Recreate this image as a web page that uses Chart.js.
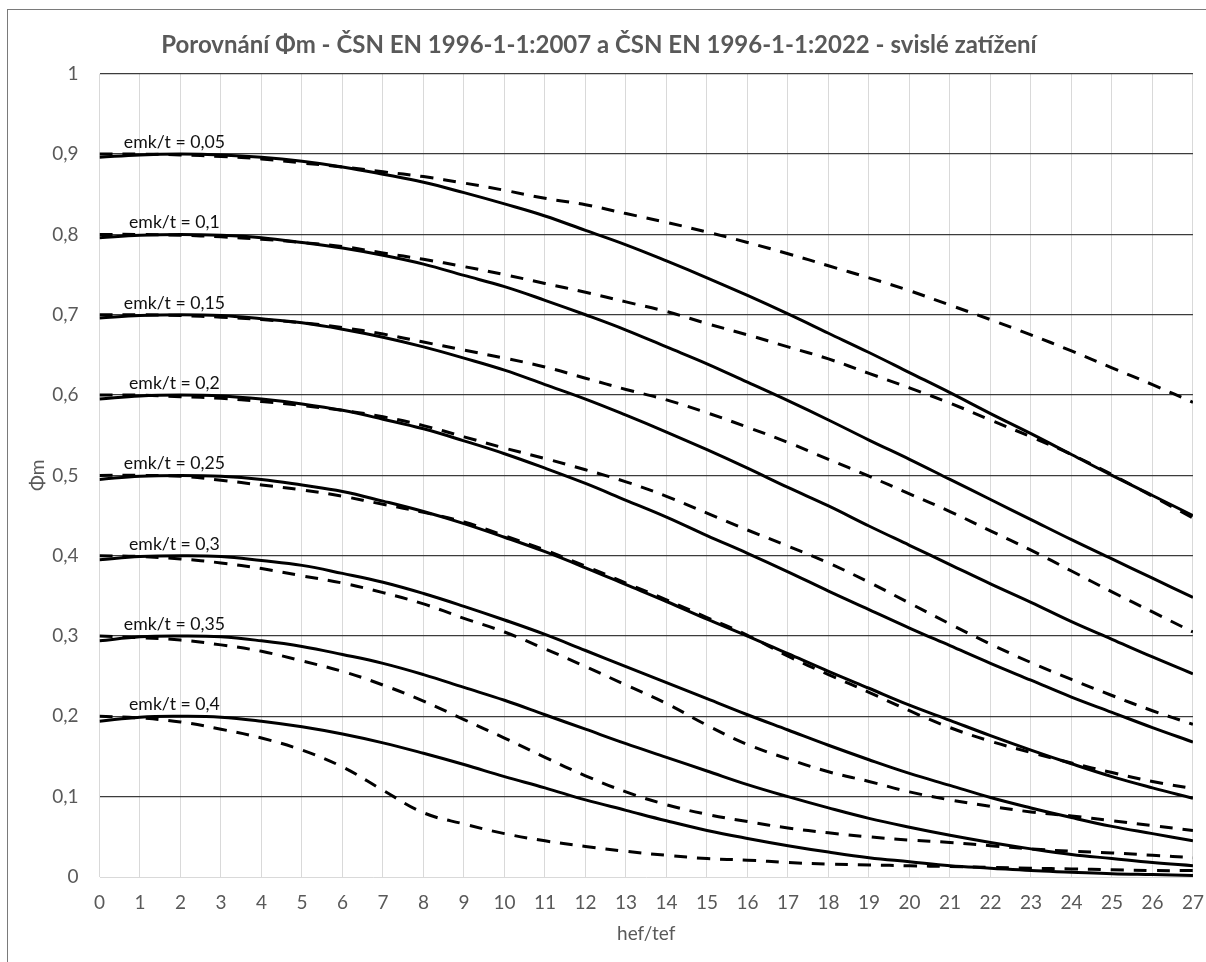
<!DOCTYPE html>
<html>
<head>
<meta charset="utf-8">
<title>Porovnání Φm</title>
<script src="https://cdn.jsdelivr.net/npm/chart.js@4.4.1/dist/chart.umd.min.js"></script>
<style>
  html, body { margin: 0; padding: 0; background: #fff; overflow: hidden; }
  canvas { display: block; }
</style>
</head>
<body>
<canvas id="phi-chart" width="1218" height="962"></canvas>
<script>
// hef/tef values on the x axis
const hefTef = [0, 1, 2, 3, 4, 5, 6, 7, 8, 9, 10, 11, 12, 13, 14, 15, 16, 17, 18, 19, 20, 21, 22, 23, 24, 25, 26, 27];
const emkLabels = ["0,05", "0,1", "0,15", "0,2", "0,25", "0,3", "0,35", "0,4"];
const yTickLabels = ["0", "0,1", "0,2", "0,3", "0,4", "0,5", "0,6", "0,7", "0,8", "0,9", "1"];

// ČSN EN 1996-1-1:2007 (solid)
const phi2007_005 = [0.896, 0.899, 0.900, 0.899, 0.896, 0.891, 0.884, 0.875, 0.865, 0.852, 0.838, 0.823, 0.805, 0.787, 0.767, 0.746, 0.724, 0.701, 0.677, 0.653, 0.628, 0.603, 0.577, 0.552, 0.526, 0.500, 0.475, 0.450];
const phi2007_010 = [0.796, 0.799, 0.800, 0.799, 0.796, 0.790, 0.783, 0.774, 0.763, 0.749, 0.735, 0.718, 0.700, 0.681, 0.660, 0.639, 0.616, 0.593, 0.569, 0.544, 0.520, 0.495, 0.470, 0.445, 0.420, 0.396, 0.372, 0.348];
const phi2007_015 = [0.696, 0.699, 0.700, 0.699, 0.695, 0.690, 0.682, 0.672, 0.660, 0.646, 0.631, 0.613, 0.595, 0.575, 0.554, 0.532, 0.509, 0.485, 0.462, 0.437, 0.413, 0.389, 0.365, 0.342, 0.318, 0.296, 0.274, 0.253];
const phi2007_020 = [0.595, 0.599, 0.600, 0.599, 0.595, 0.589, 0.581, 0.570, 0.558, 0.543, 0.527, 0.509, 0.490, 0.469, 0.448, 0.425, 0.403, 0.380, 0.356, 0.333, 0.310, 0.288, 0.266, 0.245, 0.224, 0.205, 0.186, 0.168];
const phi2007_025 = [0.495, 0.499, 0.500, 0.499, 0.495, 0.488, 0.480, 0.468, 0.455, 0.440, 0.423, 0.405, 0.385, 0.364, 0.343, 0.321, 0.300, 0.278, 0.256, 0.235, 0.214, 0.195, 0.176, 0.158, 0.141, 0.125, 0.111, 0.098];
const phi2007_030 = [0.395, 0.399, 0.400, 0.399, 0.394, 0.388, 0.378, 0.367, 0.353, 0.337, 0.320, 0.302, 0.282, 0.262, 0.242, 0.222, 0.202, 0.183, 0.164, 0.146, 0.129, 0.114, 0.099, 0.086, 0.074, 0.063, 0.054, 0.045];
const phi2007_035 = [0.294, 0.299, 0.300, 0.299, 0.294, 0.287, 0.277, 0.266, 0.252, 0.236, 0.220, 0.202, 0.184, 0.166, 0.149, 0.132, 0.115, 0.100, 0.086, 0.073, 0.062, 0.052, 0.043, 0.035, 0.028, 0.023, 0.018, 0.014];
const phi2007_040 = [0.194, 0.199, 0.200, 0.199, 0.194, 0.187, 0.178, 0.167, 0.154, 0.140, 0.125, 0.111, 0.096, 0.083, 0.070, 0.058, 0.048, 0.039, 0.031, 0.024, 0.019, 0.014, 0.011, 0.008, 0.006, 0.004, 0.003, 0.002];

// ČSN EN 1996-1-1:2022 (dashed)
const phi2022_005 = [0.900, 0.900, 0.899, 0.897, 0.894, 0.889, 0.884, 0.878, 0.872, 0.864, 0.855, 0.845, 0.837, 0.826, 0.815, 0.803, 0.790, 0.776, 0.761, 0.746, 0.730, 0.712, 0.694, 0.675, 0.655, 0.634, 0.613, 0.591];
const phi2022_010 = [0.800, 0.800, 0.799, 0.797, 0.794, 0.790, 0.785, 0.777, 0.769, 0.760, 0.750, 0.739, 0.728, 0.716, 0.704, 0.689, 0.675, 0.660, 0.645, 0.627, 0.609, 0.590, 0.569, 0.548, 0.526, 0.501, 0.474, 0.447];
const phi2022_015 = [0.700, 0.700, 0.699, 0.697, 0.694, 0.690, 0.684, 0.676, 0.666, 0.656, 0.646, 0.635, 0.621, 0.607, 0.594, 0.578, 0.560, 0.541, 0.520, 0.499, 0.477, 0.455, 0.431, 0.407, 0.381, 0.355, 0.330, 0.305];
const phi2022_020 = [0.600, 0.600, 0.598, 0.596, 0.592, 0.587, 0.581, 0.573, 0.562, 0.548, 0.534, 0.521, 0.507, 0.492, 0.474, 0.453, 0.432, 0.412, 0.391, 0.367, 0.341, 0.315, 0.290, 0.267, 0.246, 0.226, 0.207, 0.190];
const phi2022_025 = [0.500, 0.500, 0.499, 0.494, 0.488, 0.482, 0.474, 0.464, 0.454, 0.442, 0.425, 0.407, 0.387, 0.366, 0.345, 0.323, 0.301, 0.275, 0.252, 0.230, 0.207, 0.186, 0.169, 0.155, 0.142, 0.130, 0.119, 0.110];
const phi2022_030 = [0.400, 0.399, 0.396, 0.391, 0.384, 0.375, 0.366, 0.354, 0.340, 0.322, 0.305, 0.284, 0.262, 0.239, 0.216, 0.189, 0.165, 0.147, 0.131, 0.119, 0.106, 0.096, 0.088, 0.081, 0.076, 0.070, 0.064, 0.058];
const phi2022_035 = [0.300, 0.298, 0.295, 0.289, 0.281, 0.269, 0.256, 0.239, 0.219, 0.196, 0.173, 0.149, 0.126, 0.106, 0.090, 0.078, 0.069, 0.061, 0.055, 0.050, 0.046, 0.043, 0.039, 0.035, 0.032, 0.030, 0.027, 0.024];
const phi2022_040 = [0.200, 0.198, 0.193, 0.184, 0.173, 0.158, 0.137, 0.108, 0.080, 0.066, 0.054, 0.045, 0.038, 0.032, 0.027, 0.023, 0.021, 0.018, 0.016, 0.015, 0.014, 0.013, 0.012, 0.011, 0.010, 0.009, 0.008, 0.008];

const solidSeries = [phi2007_005, phi2007_010, phi2007_015, phi2007_020, phi2007_025, phi2007_030, phi2007_035, phi2007_040];
const dashedSeries = [phi2022_005, phi2022_010, phi2022_015, phi2022_020, phi2022_025, phi2022_030, phi2022_035, phi2022_040];

const gray = "#595959";

const toPoints = (values) => hefTef.map((h, i) => ({ x: h, y: values[i] }));

const datasets = [];
emkLabels.forEach((lab, i) => {
  datasets.push({
    label: "2007 emk/t = " + lab,
    data: toPoints(solidSeries[i]),
    borderColor: "#000",
    borderWidth: 3,
    pointRadius: 0,
    tension: 0.4,
    fill: false,
  });
  datasets.push({
    label: "2022 emk/t = " + lab,
    data: toPoints(dashedSeries[i]),
    borderColor: "#000",
    borderWidth: 3,
    borderDash: [13, 10],
    pointRadius: 0,
    tension: 0.4,
    fill: false,
  });
});

// outer frame of the chart + "emk/t = ..." text above each pair of curves
const chartDecor = {
  id: "chartDecor",
  beforeDraw(chart) {
    const ctx = chart.ctx;
    ctx.save();
    ctx.strokeStyle = "#7a7a7a";
    ctx.lineWidth = 1;
    ctx.strokeRect(7.5, 9.5, 1400, 1100);
    ctx.restore();
  },
  afterDatasetsDraw(chart) {
    const { ctx, scales: { x, y } } = chart;
    ctx.save();
    ctx.font = "17.7px Lato";
    ctx.fillStyle = "#111";
    ctx.textAlign = "center";
    ctx.textBaseline = "alphabetic";
    emkLabels.forEach((lab, i) => {
      const top = Math.max(...solidSeries[i]);
      ctx.fillText("emk/t = " + lab, x.getPixelForValue(1.85), y.getPixelForValue(top) - 6);
    });
    ctx.restore();
  },
};

Chart.defaults.font.family = "Lato";

new Chart(document.getElementById("phi-chart"), {
  type: "line",
  data: { datasets },
  options: {
    responsive: false,
    animation: false,
    devicePixelRatio: 1,
    layout: { padding: { left: 0, right: 20, top: 0, bottom: 0 } },
    plugins: {
      legend: { display: false },
      tooltip: { enabled: false },
      title: {
        display: true,
        text: "Porovnání Φm - ČSN EN 1996-1-1:2007 a ČSN EN 1996-1-1:2022 - svislé zatížení",
        color: gray,
        font: { size: 24, weight: "bold" },
        padding: { top: 31, bottom: 14 },
      },
    },
    scales: {
      x: {
        type: "linear",
        min: 0,
        max: 27,
        border: { display: false },
        grid: { color: "#d9d9d9", lineWidth: 1, drawTicks: false },
        ticks: {
          stepSize: 1,
          autoSkip: false,
          maxRotation: 0,
          color: gray,
          font: { size: 19 },
          padding: 14,
        },
        title: {
          display: true,
          text: "hef/tef",
          color: gray,
          font: { size: 19 },
          padding: { top: 0, bottom: 17 },
        },
        afterFit: (scale) => { scale.height = 85; },
      },
      y: {
        min: 0,
        max: 1,
        border: { display: false },
        grid: {
          color: (c) => (c.tick && c.tick.value === 0 ? "#d9d9d9" : "#3c3c3c"),
          lineWidth: (c) => (c.tick && c.tick.value === 0 ? 1 : 1.3),
          drawTicks: false,
        },
        ticks: {
          stepSize: 0.1,
          color: gray,
          font: { size: 19 },
          padding: 21,
          callback: (value, index) => yTickLabels[index],
        },
        title: {
          display: true,
          text: "Φm",
          color: gray,
          font: { size: 19 },
          padding: { top: 26, bottom: 0 },
        },
        afterFit: (scale) => { scale.width = 99.5; },
      },
    },
  },
  plugins: [chartDecor],
});
</script>
</body>
</html>
